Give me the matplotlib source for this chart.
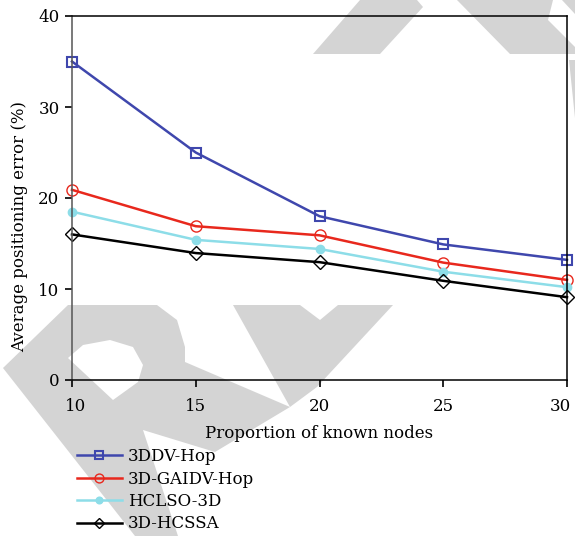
import matplotlib.pyplot as plt
import matplotlib.transforms as mtransforms
from matplotlib.patches import Polygon

# data
nodes = [10, 15, 20, 25, 30]
dv_hop = [35, 25, 18, 14.9, 13.2]
gaidv_hop = [20.9, 16.9, 15.9, 12.9, 11.0]
hclso = [18.5, 15.4, 14.4, 11.9, 10.2]
hcssa = [16.0, 13.95, 12.95, 10.9, 9.1]

series_names = ["3DDV-Hop", "3D-GAIDV-Hop", "HCLSO-3D", "3D-HCSSA"]

plt.rcParams['font.family'] = ['DejaVu Serif']
plt.rcParams['font.size'] = 12

W, H = 575, 536
fig = plt.figure(figsize=(W / 100, H / 100), dpi=100)

# light gray watermark shapes behind everything (pixel coords, y from top)
wm_shapes = [
    [(3, 368), (68, 305), (157, 305), (177, 320), (185, 347), (185, 362),
     (290, 407), (215, 452), (143, 430), (178, 536), (135, 536)],
    [(233, 305), (300, 305), (320, 320), (338, 305), (393, 305),
     (317, 387), (290, 407)],
    [(313, 54), (380, 54), (423, 7), (417, 0), (360, 0)],
    [(457, 0), (553, 0), (548, 20), (575, 47), (575, 54), (510, 54)],
    [(562, 0), (575, 0), (575, 14)],
    [(569, 60), (575, 60), (575, 118)],
]
hole = [(68, 358), (83, 345), (110, 340), (133, 347), (143, 365), (138, 382), (113, 400)]
for pts in wm_shapes:
    fig.patches.append(Polygon([(x, H - y) for x, y in pts], closed=True,
                               transform=None, facecolor='#d4d4d4',
                               edgecolor='none', zorder=-2))
fig.patches.append(Polygon([(x, H - y) for x, y in hole], closed=True,
                           transform=None, facecolor='white',
                           edgecolor='none', zorder=-1))

ax = fig.add_axes([72 / W, 1 - 380 / H, (567 - 72) / W, (380 - 16) / H])
ax.set_facecolor('none')
ax.set_zorder(1)

l1, = ax.plot(nodes, dv_hop, color='#3f47ad', lw=1.8, marker='s', ms=7,
              mfc='none', mec='#3f47ad', mew=1.5, label=series_names[0])
l2, = ax.plot(nodes, gaidv_hop, color='#e8281d', lw=1.8, marker='o', ms=8,
              mfc='none', mec='#e8281d', mew=1.0, label=series_names[1])
l3, = ax.plot(nodes, hclso, color='#8ddde8', lw=1.8, marker='o', ms=6,
              mfc='#8ddde8', mec='#8ddde8', label=series_names[2])
l4, = ax.plot(nodes, hcssa, color='black', lw=1.8, marker='D', ms=7,
              mfc='none', mec='black', mew=1.0, label=series_names[3])
for ln in (l1, l2, l3, l4):
    ln.set_clip_on(False)

ax.set_xlim(10, 30)
ax.set_ylim(0, 40)
ax.set_xticks([10, 15, 20, 25, 30])
ax.set_yticks([0, 10, 20, 30, 40])
ax.tick_params(direction='out', length=5, width=1.2, pad=4)
ax.tick_params(axis='x', pad=8)
for side in ['left', 'bottom', 'top', 'right']:
    ax.spines[side].set_linewidth(1.1)
ax.spines['left'].set_color('#555555')

# end labels sit a little inside, as in the reference
xlabels = ax.get_xticklabels()
for lab, dx in [(xlabels[0], 4), (xlabels[-1], -7)]:
    lab.set_transform(lab.get_transform() +
                      mtransforms.ScaledTranslation(dx / 100, 0, fig.dpi_scale_trans))

ax.set_xlabel("Proportion of known nodes", labelpad=7)
ax.set_ylabel("Average positioning error (%)")
ax.yaxis.set_label_coords(-0.089, 0.423)

leg = fig.legend(handles=[l1, l2, l3, l4], loc='upper left',
                 bbox_to_anchor=(77 / W, 1 - 448 / H), frameon=False,
                 handlelength=2.7, handletextpad=0.35, labelspacing=0.33,
                 borderpad=0, borderaxespad=0, markerscale=0.8)
leg.set_zorder(5)

fig.savefig("out.png", dpi=100)
